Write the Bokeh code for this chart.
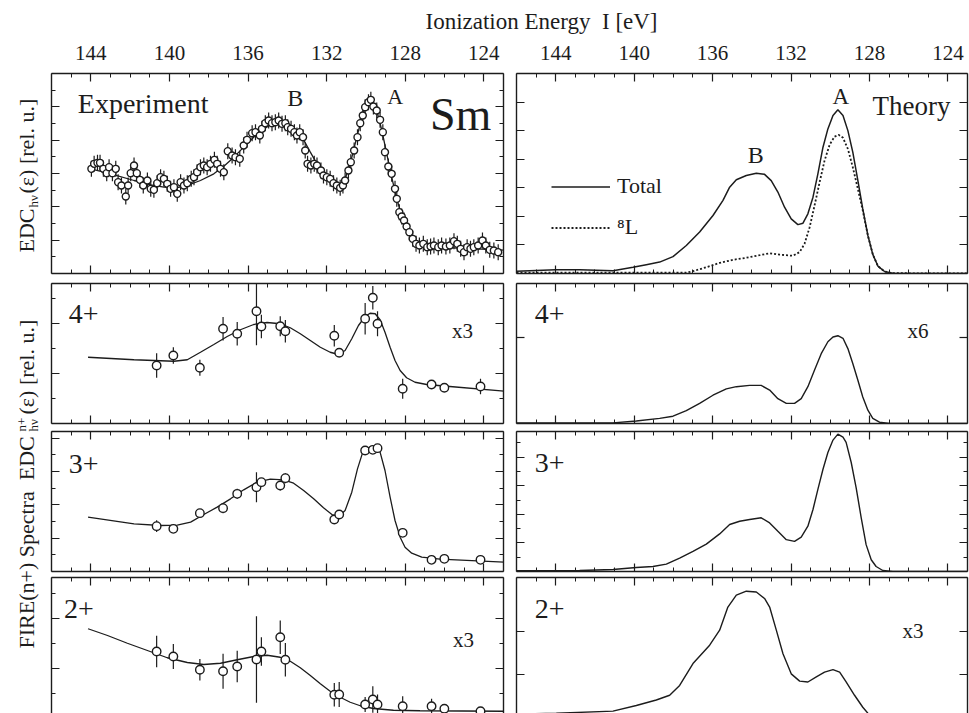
import math
import numpy as np
from bokeh.plotting import figure
from bokeh.models import (Range1d, FixedTicker, LinearAxis, Label, Legend, LegendItem,
                          CustomJSTickFormatter)
from bokeh.layouts import column, row
from bokeh.embed import file_html
from bokeh.resources import INLINE

FONT = "Liberation Serif"
INK = "#1c1c1c"
NBSP = "\u00a0"

# ---------------- energy axis (ionization energy, eV, decreasing to the right)
E_RANGE = (146.0, 123.0)
E_MAJOR = [144, 140, 136, 132, 128, 124]
E_MINOR = list(range(123, 147))

# ---------------- top left: measured total EDC and its fit
exp_energy = [143.97, 143.83, 143.66, 143.53, 143.36, 143.19, 143.07, 142.90, 142.73, 142.61,
              142.44, 142.22, 142.10, 141.97, 141.80, 141.66, 141.50, 141.33, 141.12, 140.95,
              140.79, 140.62, 140.45, 140.28, 140.11, 139.94, 139.77, 139.60, 139.43, 139.26,
              139.09, 138.89, 138.75, 138.59, 138.42, 138.25, 138.08, 137.91, 137.71, 137.57,
              137.40, 137.23, 137.03, 136.81, 136.64, 136.42, 136.22, 136.05, 135.79, 135.62,
              135.40, 135.29, 135.12, 134.95, 134.78, 134.61, 134.44, 134.27, 134.10, 133.98,
              133.81, 133.64, 133.51, 133.37, 133.20, 133.09, 132.97, 132.80, 132.63, 132.49,
              132.29, 132.16, 131.99, 131.82, 131.65, 131.48, 131.31, 131.17, 131.06, 130.89,
              130.77, 130.60, 130.43, 130.29, 130.16, 130.04, 129.87, 129.75, 129.62, 129.45,
              129.28, 129.14, 129.03, 128.86, 128.69, 128.52, 128.43, 128.30, 128.18, 128.06,
              127.93, 127.79, 127.62, 127.45, 127.28, 127.08, 126.88, 126.71, 126.54, 126.32,
              126.15, 125.93, 125.73, 125.52, 125.35, 125.18, 125.01, 124.85, 124.68, 124.51,
              124.29, 124.07, 123.90, 123.70, 123.49, 123.27]
exp_edc = [3.14, 3.29, 3.32, 3.32, 3.14, 3.01, 3.19, 3.01, 3.14, 2.74,
           2.64, 2.31, 2.64, 3.01, 3.24, 3.01, 2.81, 2.64, 2.79, 2.54,
           2.51, 2.71, 2.89, 2.84, 2.69, 2.54, 2.59, 2.39, 2.74, 2.64,
           2.71, 2.84, 2.89, 3.04, 3.19, 3.24, 3.19, 3.29, 3.41, 3.29,
           3.14, 3.04, 3.67, 3.54, 3.49, 3.44, 3.84, 4.01, 4.21, 4.24,
           4.14, 4.34, 4.51, 4.59, 4.51, 4.54, 4.59, 4.49, 4.51, 4.39,
           4.34, 4.24, 4.14, 4.24, 4.09, 3.69, 3.29, 3.24, 3.29, 3.24,
           3.09, 2.94, 2.89, 2.84, 2.71, 2.64, 2.57, 2.64, 2.79, 3.09,
           3.34, 3.69, 4.09, 4.51, 4.74, 4.99, 5.14, 5.21, 5.01, 4.89,
           4.61, 4.24, 3.64, 3.21, 2.99, 2.54, 2.24, 1.84, 1.71, 1.59,
           1.41, 1.24, 1.04, 0.89, 0.84, 0.89, 0.79, 0.81, 0.84, 0.79,
           0.84, 0.81, 0.84, 0.97, 0.89, 0.74, 0.64, 0.79, 0.74, 0.79,
           0.84, 0.99, 0.84, 0.71, 0.69, 0.64]
exp_edc_err = 0.24

exp_fit_energy = [144.0, 142.98, 141.80, 140.95, 140.28, 139.60, 139.09, 138.42, 137.74, 137.23,
                  136.72, 136.22, 135.71, 135.20, 134.78, 134.36, 133.93, 133.51, 133.17, 132.83,
                  132.49, 132.07, 131.65, 131.31, 131.06, 130.80, 130.55, 130.29, 130.04, 129.82,
                  129.65, 129.45, 129.19, 128.94, 128.69, 128.43, 128.18, 127.93, 127.59, 127.16,
                  126.57, 123.19, 123.0]
exp_fit = [3.14, 2.99, 2.79, 2.66, 2.59, 2.58, 2.64, 2.79, 2.99, 3.22,
           3.49, 3.79, 4.09, 4.34, 4.49, 4.54, 4.47, 4.27, 4.01, 3.64,
           3.29, 2.99, 2.77, 2.69, 2.84, 3.29, 3.89, 4.49, 4.99, 5.19,
           5.14, 4.89, 4.29, 3.59, 2.89, 2.24, 1.74, 1.34, 0.99, 0.84,
           0.79, 0.71, 0.70]

# ---------------- top right: calculated total EDC and the 8L contribution
theo_energy = [146.0, 144.0, 142.78, 141.08, 140.06, 139.38, 138.70, 138.02, 137.34, 136.66,
               135.98, 135.47, 135.13, 134.79, 134.28, 133.77, 133.35, 133.01, 132.67, 132.33,
               131.99, 131.65, 131.39, 131.14, 130.88, 130.63, 130.37, 130.12, 129.86, 129.61,
               129.35, 129.10, 128.85, 128.59, 128.34, 128.08, 127.83, 127.57, 127.23, 126.81,
               123.0]
theo_total = [0.08, 0.13, 0.13, 0.10, 0.22, 0.31, 0.40, 0.59, 0.98, 1.45,
              2.03, 2.56, 3.02, 3.28, 3.43, 3.51, 3.47, 3.25, 2.85, 2.32,
              1.91, 1.71, 1.76, 2.09, 2.67, 3.49, 4.42, 5.06, 5.53, 5.73,
              5.53, 5.00, 4.25, 3.25, 2.26, 1.33, 0.67, 0.26, 0.07, 0.01,
              0.0]
l8_energy = [146.0, 137.34, 137.0, 136.32, 135.64, 134.96, 134.28, 133.60, 133.09, 132.58,
             131.90, 131.56, 131.31, 131.05, 130.80, 130.54, 130.29, 130.03, 129.78, 129.56,
             129.35, 129.10, 128.85, 128.59, 128.34, 128.08, 127.83, 127.57, 127.23, 126.81,
             123.0]
l8_values = [0.03, 0.03, 0.08, 0.22, 0.37, 0.48, 0.55, 0.64, 0.71, 0.66,
             0.62, 0.75, 1.04, 1.62, 2.38, 3.20, 3.95, 4.51, 4.79, 4.85,
             4.75, 4.36, 3.72, 2.96, 2.20, 1.33, 0.67, 0.26, 0.07, 0.01,
             0.0]

# ---------------- measured FIRE(n+) spectra (same photon energies for every charge)
ion_energy = [140.65, 139.80, 138.45, 137.27, 136.55, 135.57, 135.32, 134.36, 134.10,
              131.61, 131.36, 130.04, 129.65, 129.41, 128.13, 126.66, 126.01, 124.17]

q4_values = [2.32, 2.72, 2.23, 3.79, 3.59, 4.49, 3.88, 3.89, 3.69,
             3.51, 2.83, 4.19, 5.03, 3.99, 1.39, 1.56, 1.43, 1.48]
q4_err = [0.49, 0.33, 0.32, 0.47, 0.47, 1.36, 0.47, 0.40, 0.45,
          0.43, 0.17, 0.63, 0.47, 0.50, 0.40, 0.17, 0.10, 0.31]
q4_fit_energy = [144.14, 141.80, 139.77, 139.09, 138.42, 137.74, 137.06, 136.39, 135.71, 135.03,
                 134.36, 133.85, 133.34, 132.83, 132.32, 131.82, 131.39, 131.06, 130.72, 130.38,
                 130.04, 129.79, 129.53, 129.28, 129.03, 128.77, 128.52, 128.26, 127.93, 127.50,
                 126.91, 125.73, 122.93]
q4_fit = [2.65, 2.55, 2.49, 2.55, 2.85, 3.16, 3.48, 3.75, 3.96, 4.04,
          3.99, 3.83, 3.59, 3.32, 3.05, 2.85, 2.76, 2.92, 3.39, 3.92,
          4.28, 4.41, 4.39, 4.15, 3.65, 3.05, 2.52, 2.12, 1.83, 1.65,
          1.56, 1.48, 1.29]

q3_values = [2.72, 2.56, 3.50, 3.80, 4.66, 5.06, 5.36, 5.16, 5.60,
             3.12, 3.42, 7.26, 7.30, 7.40, 2.32, 0.70, 0.76, 0.70]
q3_err = [0.35, 0.15, 0.20, 0.30, 0.30, 0.90, 0.20, 0.30, 0.30,
          0.20, 0.10, 0.20, 0.15, 0.15, 0.20, 0.10, 0.10, 0.15]
q3_fit_energy = [144.14, 141.80, 140.45, 139.60, 138.92, 138.25, 137.57, 136.89, 136.22, 135.54,
                 134.86, 134.19, 133.68, 133.17, 132.66, 132.16, 131.73, 131.39, 131.06, 130.72,
                 130.43, 130.16, 129.87, 129.53, 129.28, 129.03, 128.77, 128.52, 128.26, 128.01,
                 127.67, 127.16, 126.23, 122.93]
q3_fit = [3.26, 2.86, 2.76, 2.78, 2.96, 3.42, 3.86, 4.36, 4.90, 5.36,
          5.54, 5.50, 5.30, 4.86, 4.36, 3.82, 3.42, 3.30, 3.66, 4.76,
          6.16, 7.16, 7.42, 7.46, 7.16, 6.06, 4.46, 3.06, 2.06, 1.46,
          1.10, 0.86, 0.74, 0.56]

q2_values = [2.68, 2.48, 1.95, 1.89, 2.08, 2.36, 2.68, 3.25, 2.35,
             0.95, 0.96, 0.56, 0.76, 0.56, 0.49, 0.49, 0.39, 0.29]
q2_err = [0.63, 0.50, 0.43, 0.70, 0.63, 1.73, 0.57, 0.67, 0.67,
          0.47, 0.50, 0.30, 0.53, 0.40, 0.40, 0.30, 0.10, 0.10]
q2_fit_energy = [144.14, 143.15, 142.14, 141.12, 140.11, 139.09, 138.25, 137.40, 136.55, 135.71,
                 135.03, 134.36, 133.85, 133.34, 132.83, 132.32, 131.82, 131.31, 130.80, 130.29,
                 129.62, 128.60, 127.25, 122.93]
q2_fit = [3.59, 3.32, 3.01, 2.72, 2.43, 2.24, 2.16, 2.21, 2.35, 2.48,
          2.53, 2.45, 2.29, 2.03, 1.72, 1.39, 1.09, 0.85, 0.65, 0.51,
          0.40, 0.33, 0.31, 0.29]

# ---------------- calculated FIRE(n+) spectra
th4_energy = [146.0, 141.08, 139.89, 138.70, 138.02, 137.34, 136.66, 135.98, 135.30, 134.79,
              134.11, 133.52, 133.09, 132.67, 132.24, 131.82, 131.48, 131.14, 130.80, 130.46,
              130.12, 129.86, 129.61, 129.35, 129.10, 128.85, 128.59, 128.34, 128.08, 127.83,
              127.49, 126.98, 123.0]
th4_values = [0.015, 0.015, 0.06, 0.12, 0.17, 0.30, 0.47, 0.66, 0.81, 0.86,
              0.89, 0.89, 0.78, 0.58, 0.47, 0.47, 0.58, 0.86, 1.25, 1.63,
              1.91, 2.02, 2.05, 1.99, 1.75, 1.40, 1.01, 0.62, 0.31, 0.12,
              0.03, 0.0, 0.0]
th3_energy = [146.0, 142.78, 141.08, 139.89, 139.04, 138.36, 137.68, 137.0, 136.32, 135.64,
              135.13, 134.62, 134.11, 133.52, 133.09, 132.67, 132.24, 131.82, 131.48, 131.14,
              130.88, 130.63, 130.37, 130.12, 129.86, 129.61, 129.35, 129.19, 128.93, 128.68,
              128.42, 128.17, 127.91, 127.66, 127.32, 126.81, 123.0]
th3_values = [0.05, 0.07, 0.14, 0.28, 0.35, 0.52, 0.94, 1.41, 1.92, 2.63,
              3.29, 3.52, 3.64, 3.76, 3.40, 2.82, 2.23, 2.11, 2.40, 3.17,
              4.34, 5.75, 7.16, 8.33, 9.20, 9.62, 9.40, 9.04, 7.63, 5.87,
              3.76, 1.88, 0.82, 0.35, 0.07, 0.0, 0.0]
th2_energy = [146.0, 143.97, 141.08, 139.89, 138.87, 138.19, 137.68, 137.0, 136.15, 135.64,
              135.22, 134.79, 134.28, 133.77, 133.35, 133.09, 132.75, 132.41, 131.99, 131.56,
              131.14, 130.71, 130.29, 129.86, 129.52, 129.19, 128.76, 128.34, 128.08, 127.74,
              123.0]
th2_values = [0.08, 0.10, 0.15, 0.28, 0.41, 0.52, 0.75, 1.26, 1.69, 2.04,
              2.58, 2.86, 2.95, 2.93, 2.78, 2.58, 2.04, 1.49, 1.02, 0.85,
              0.83, 0.95, 1.06, 1.12, 1.06, 0.83, 0.52, 0.24, 0.10, 0.0,
              0.0]

# ---------------- helpers
blank = CustomJSTickFormatter(code="return ''")
MID = 0.338  # distance from the text middle line down to the baseline, in em


def style_axis(ax, labelled):
    ax.axis_line_color = INK
    ax.axis_line_width = 1.4
    ax.major_tick_line_color = INK
    ax.major_tick_line_width = 1.2
    ax.minor_tick_line_color = INK
    ax.minor_tick_line_width = 1.0
    ax.major_tick_in = 8
    ax.major_tick_out = 0
    ax.minor_tick_in = 4
    ax.minor_tick_out = 0
    if labelled:
        ax.major_label_text_font = FONT
        ax.major_label_text_font_size = "21px"
        ax.major_label_text_color = INK
        ax.major_label_standoff = 14
    else:
        ax.formatter = blank
        ax.major_label_text_font_size = "0px"
        ax.major_label_standoff = 0


def panel(frame_w, frame_h, y_range, y_major, y_minor, borders, top_labels=False, bottom=True):
    left, right, top, bot = borders
    p = figure(frame_width=frame_w, frame_height=frame_h,
               x_range=Range1d(*E_RANGE), y_range=Range1d(*y_range),
               x_axis_location=None, y_axis_location=None,
               toolbar_location=None, output_backend="svg",
               min_border_left=left, min_border_right=right,
               min_border_top=top, min_border_bottom=bot,
               outline_line_color=None,
               background_fill_color="white", border_fill_color="white")
    p.grid.grid_line_color = None
    sides = ["above", "left", "right"] + (["below"] if bottom else [])
    for side in sides:
        if side in ("above", "below"):
            ax = LinearAxis(ticker=FixedTicker(ticks=E_MAJOR, minor_ticks=E_MINOR))
        else:
            ax = LinearAxis(ticker=FixedTicker(ticks=y_major, minor_ticks=y_minor))
        style_axis(ax, labelled=(side == "above" and top_labels))
        p.add_layout(ax, side)
    return p


def text(p, x, y, s, size_px, ppu):
    # (x, y) is the left end of the baseline; labels are anchored on their middle line
    p.add_layout(Label(x=x, y=y + MID * size_px / ppu, text=s, text_font=FONT,
                       text_font_size=f"{size_px}px", text_color=INK,
                       text_align="left", text_baseline="middle"))


def measured(p, energy, values, err, size):
    e = np.asarray(energy)
    v = np.asarray(values)
    d = np.asarray(err) * np.ones_like(v)
    p.segment(x0=e, y0=v - d, x1=e, y1=v + d, line_color=INK, line_width=1.2)
    p.scatter(e, v, marker="circle", size=size, fill_color="white",
              line_color=INK, line_width=1.4)


LW, RW = 452, 451
LB = (11, 6)
RB = (7, 2)

# ---------------- row 1
p_exp = panel(LW, 200, (0, 6), [1, 2, 3, 4, 5], [0.5, 1.5, 2.5, 3.5, 4.5, 5.5],
              (*LB, 38, 5), top_labels=True)
p_exp.line(exp_fit_energy, exp_fit, line_color=INK, line_width=1.3)
measured(p_exp, exp_energy, exp_edc, exp_edc_err, 7)
u = 200 / 6
text(p_exp, 144.66, 4.83, "Experiment", 28, u)
text(p_exp, 134.0, 5.01, "B", 24, u)
text(p_exp, 128.92, 5.1, "A", 22, u)
text(p_exp, 126.74, 4.29, "Sm", 46, u)

p_th = panel(RW, 200, (0, 7), [1, 2, 3, 4, 5, 6], [], (*RB, 38, 5), top_labels=True)
r_tot = p_th.line(theo_energy, theo_total, line_color=INK, line_width=1.5)
r_l8 = p_th.line(l8_energy, l8_values, line_color=INK, line_width=1.8, line_dash="2 2")
u = 200 / 7
text(p_th, 127.84, 5.53, "Theory", 27, u)
text(p_th, 129.88, 5.92, "A", 23, u)
text(p_th, 134.21, 3.86, "B", 24, u)
legend = Legend(items=[LegendItem(label="Total", renderers=[r_tot]),
                       LegendItem(label="\u2078L", renderers=[r_l8])],
                location=(35, 33), orientation="vertical",
                glyph_width=59, glyph_height=25, label_height=25, spacing=15,
                label_standoff=7, padding=0, margin=0,
                border_line_alpha=0, background_fill_alpha=0,
                label_text_font=FONT, label_text_font_size="22px", label_text_color=INK)
p_th.add_layout(legend)

# ---------------- row 2 (4+)
p_q4 = panel(LW, 140, (0, 5.6), [2, 4], [1, 3, 5], (*LB, 5, 4))
p_q4.line(q4_fit_energy, q4_fit, line_color=INK, line_width=1.3)
measured(p_q4, ion_energy, q4_values, q4_err, 8.5)
u = 140 / 5.6
text(p_q4, 145.12, 4.0, "4+", 28, u)
text(p_q4, 125.62, 3.4, "x3", 21, u)

p_t4 = panel(RW, 140, (0, 3.27), [2], [], (*RB, 5, 4))
p_t4.line(th4_energy, th4_values, line_color=INK, line_width=1.4)
u = 140 / 3.27
text(p_t4, 145.07, 2.34, "4+", 28, u)
text(p_t4, 126.06, 1.99, "x6", 21, u)

# ---------------- row 3 (3+)
p_q3 = panel(LW, 140, (0, 8.4), [2, 4, 6, 8], [1, 3, 5, 7], (*LB, 4, 3))
p_q3.line(q3_fit_energy, q3_fit, line_color=INK, line_width=1.3)
measured(p_q3, ion_energy, q3_values, q3_err, 8.5)
text(p_q3, 145.12, 5.88, "3+", 28, 140 / 8.4)

p_t3 = panel(RW, 140, (0, 9.8), [2, 4, 6, 8], [1, 3, 5, 7, 9], (*RB, 4, 3))
p_t3.line(th3_energy, th3_values, line_color=INK, line_width=1.4)
text(p_t3, 145.07, 6.9, "3+", 28, 140 / 9.8)

# ---------------- row 4 (2+), open at the bottom
p_q2 = panel(LW, 136, (0.2, 5.64), [2, 4], [1, 3, 5], (*LB, 3, 0), bottom=False)
p_q2.line(q2_fit_energy, q2_fit, line_color=INK, line_width=1.3)
measured(p_q2, ion_energy, q2_values, q2_err, 8.5)
u = 136 / 5.44
text(p_q2, 145.37, 4.0, "2+", 28, u)
text(p_q2, 125.57, 2.84, "x3", 21, u)

p_t2 = panel(RW, 136, (0.094, 3.27), [1, 2], [], (*RB, 3, 0), bottom=False)
p_t2.line(th2_energy, th2_values, line_color=INK, line_width=1.4)
u = 136 / 3.176
text(p_t2, 145.07, 2.32, "2+", 28, u)
text(p_t2, 126.31, 1.85, "x3", 21, u)


# ---------------- shared titles (canvases measured in page pixels, y downwards)
def canvas(w, h, y0, y1):
    c = figure(width=w, height=h, x_range=Range1d(0, w), y_range=Range1d(y1, y0),
               x_axis_location=None, y_axis_location=None, toolbar_location=None,
               output_backend="svg", min_border=0, outline_line_color=None,
               background_fill_color="white", border_fill_color="white")
    c.grid.grid_line_color = None
    return c


header = canvas(969, 35, 0, 35)
header.add_layout(Label(x=541, y=29 - MID * 23, text=f"Ionization Energy{NBSP} I [eV]",
                        text_font=FONT, text_font_size="23px", text_color=INK,
                        text_align="center", text_baseline="middle"))

ylab = canvas(40, 678, 35, 713)


def vtext(base_x, y, s, size_px):
    # rotated text reads upwards; its baseline is the vertical line x = base_x
    ylab.add_layout(Label(x=base_x - MID * size_px, y=y, text=s, angle=math.pi / 2,
                          text_font=FONT, text_font_size=f"{size_px}px", text_color=INK,
                          text_align="left", text_baseline="middle"))


vtext(33, 252, "EDC", 22)
vtext(37, 207, "h\u03bd", 13)
vtext(33, 193, "(\u03b5) [rel. u.]", 22)

vtext(33, 648, f"FIRE(n+) Spectra{NBSP} EDC", 22)
vtext(25, 431, "n+", 13)
vtext(37, 431, "h\u03bd", 13)
vtext(33, 414, "(\u03b5) [rel. u.]", 22)

grid = column(row(p_exp, p_th), row(p_q4, p_t4), row(p_q3, p_t3), row(p_q2, p_t2))
page = column(header, row(ylab, grid))

open("out.html", "w").write(file_html(page, INLINE))
